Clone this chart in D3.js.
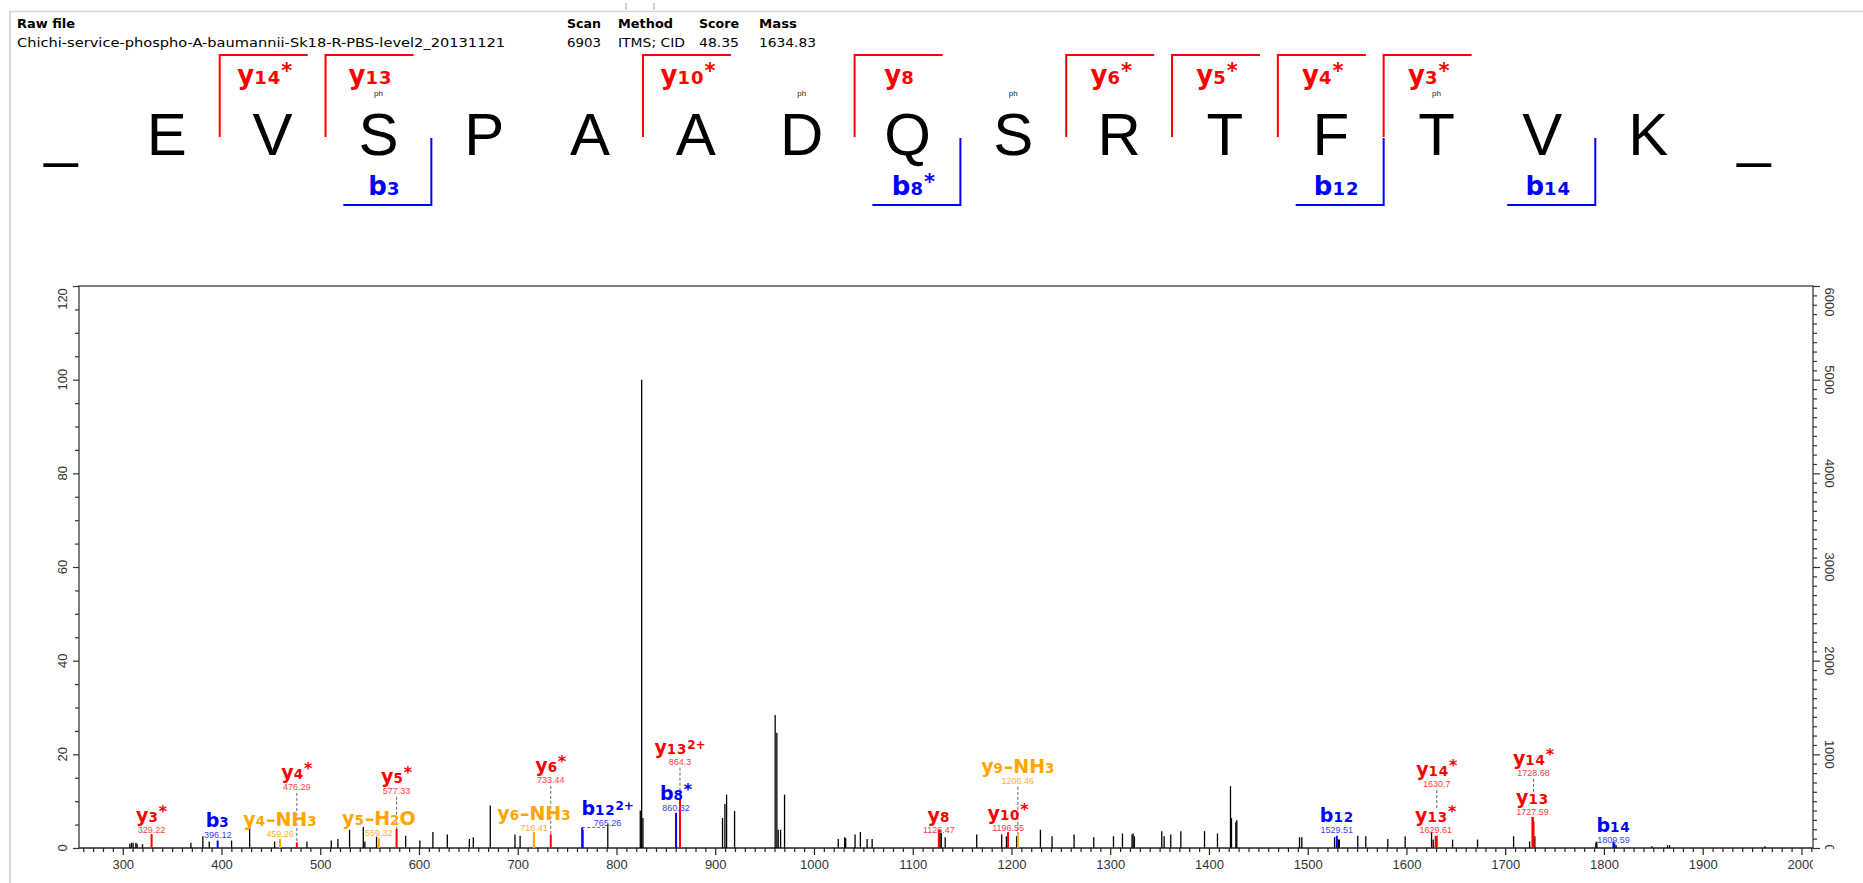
<!DOCTYPE html>
<html>
<head>
<meta charset="utf-8">
<script src="https://cdn.jsdelivr.net/npm/d3@7/dist/d3.min.js"></script>
<style>
html,body{margin:0;padding:0;background:#fff;}
svg{display:block;}
</style>
</head>
<body>
<svg id="chart" width="1863" height="883"></svg>
<script>
// ---------------- data ----------------
const rawFile = "Chichi-service-phospho-A-baumannii-Sk18-R-PBS-level2_20131121";
const fieldNames = ["Scan", "Method", "Score", "Mass"];
const fieldValues = ["6903", "ITMS; CID", "48.35", "1634.83"];

const sequence = ["_","E","V","S","P","A","A","D","Q","S","R","T","F","T","V","K","_"];
const phosphoSites = [3, 7, 9, 13];
const headerYIons = [14, 13, 10, 8, 6, 5, 4, 3];
const headerYMods = ["*", "", "*", "", "*", "*", "*", "*"];
const headerBIons = [3, 8, 12, 14];
const headerBMods = ["", "*", "", ""];

// unassigned peaks (m/z, relative intensity %)
const peakMz = [307.2,308.9,310.5,313.3,314.5,320.0,369.0,381.1,387.6,410.2,428.5,453.8,486.5,511.2,517.9,529.7,543.6,545.2,557.0,586.5,600.9,614.1,628.7,651.0,655.0,672.2,697.2,702.4,766.0,791.2,824.1,825.5,826.8,907.4,909.8,911.5,919.6,960.7,962.4,963.8,966.2,970.2,1024.6,1031.1,1032.1,1041.6,1047.0,1053.8,1058.9,1127.6,1128.9,1132.9,1164.8,1190.1,1194.9,1205.2,1229.3,1241.1,1263.4,1283.3,1303.3,1312.4,1322.1,1323.2,1324.5,1352.2,1354.6,1361.3,1371.5,1395.5,1408.6,1421.8,1422.8,1427.2,1428.2,1491.7,1494.0,1527.2,1531.0,1532.0,1550.7,1558.8,1581.1,1598.7,1625.4,1627.1,1646.7,1672.0,1708.5,1724.7,1728.1,1730.0,1791.8,1792.8,1811.0,1812.3,1848.5,1864.4,1866.5,1963.0];
const peakInt = [0.9,1.1,1.1,1.1,0.9,0.8,1.1,2.5,1.4,1.6,4.6,1.4,1.4,1.6,1.9,3.9,4.5,1.4,2.4,2.6,1.6,3.4,2.9,1.9,2.3,9.1,2.9,2.6,3.9,5.1,8.0,100,6.4,6.4,9.4,11.4,7.9,28.4,24.6,3.9,3.9,11.4,1.9,2.3,2.1,2.9,3.4,1.9,1.9,3.9,3.2,2.3,2.9,2.9,2.5,2.5,3.9,2.5,2.9,2.3,2.5,3.1,2.9,3.1,2.5,3.6,2.5,2.9,3.6,3.6,3.1,13.2,6.4,5.5,5.9,2.3,2.3,2.3,1.8,1.8,2.6,2.5,1.9,2.5,3.4,1.8,1.8,1.8,2.5,1.4,6.6,2.5,1.2,1.4,0.9,0.6,0.35,0.6,0.6,0.35];

// assigned fragment ions
const ionMz = [329.22,396.12,459.26,476.29,559.32,577.33,716.41,733.44,765.26,860.32,864.3,1126.47,1196.55,1206.46,1529.51,1629.61,1630.7,1727.59,1728.68,1809.59];
const ionInt = [3.0,1.6,1.9,1.2,2.1,4.1,3.4,2.9,4.4,7.5,10.5,3.9,3.4,2.9,2.6,2.6,2.6,6.6,5.7,1.4];
const ionType = ["y","b","y","y","y","y","y","y","b","b","y","y","y","y","b","y","y","y","y","b"];
const ionNum = [3,3,4,4,5,5,6,6,12,8,13,8,10,9,12,13,14,13,14,14];
const ionMod = ["*","","-NH3","*","-H2O","*","-NH3","*","2+","*","2+","","*","-NH3","","*","*","","*",""];
const ionLabelText = ["329.22","396.12","459.26","476.29","559.32","577.33","716.41","733.44","765.26","860.32","864.3","1126.47","1196.55","1206.46","1529.51","1629.61","1630.7","1727.59","1728.68","1809.59"];
// where the m/z label sits (m/z, intensity level of the number's baseline)
const ionLabelMz = [329.22,396.12,459.26,476.29,559.32,577.33,716.41,733.44,791.0,860.32,864.3,1126.47,1196.55,1206.46,1529.51,1629.61,1630.7,1727.59,1728.68,1809.59];
const ionLabelLevel = [3.2,2.1,2.35,12.4,2.6,11.6,3.6,13.9,4.7,7.9,17.8,3.3,3.6,13.7,3.2,3.3,13.0,7.1,15.4,1.1];

const xMajorTicks = d3.range(300, 2001, 100);
const xMinorTicks = d3.range(260, 2011, 10).filter(v => v % 100 !== 0);
const yMajorTicks = d3.range(0, 121, 20);
const yMinorTicks = d3.range(0, 121, 5).filter(v => v % 20 !== 0);
const rMajorTicks = d3.range(0, 6001, 1000);
const rMinorTicks = d3.range(0, 6001, 100).filter(v => v % 1000 !== 0);

// ---------------- layout ----------------
const svg = d3.select("#chart");
const plot = {left: 79, right: 1813, top: 286, bottom: 848};
const x = d3.scaleLinear().domain([255.7, 2011.7]).range([plot.left, plot.right]);
const y = d3.scaleLinear().domain([0, 120]).range([plot.bottom, plot.top]);
const yR = d3.scaleLinear().domain([0, 6000]).range([plot.bottom, plot.top]);
const seqX = d3.scaleLinear().domain([0, sequence.length - 1]).range([61, 1754]);

const RED = "#ff0000", BLUE = "#0000ff", ORANGE = "#ffa500";
const RED_N = "#ff4040", BLUE_N = "#3a3aff", ORANGE_N = "#ffae30";
const AXIS_FONT = "'Liberation Sans', Arial, sans-serif";
const LABEL_FONT = "'DejaVu Sans', Verdana, sans-serif";

const defs = svg.append("defs");
defs.append("clipPath").attr("id", "clipX").append("rect")
  .attr("x", 0).attr("y", -5).attr("width", plot.right).attr("height", 45);
defs.append("clipPath").attr("id", "clipR").append("rect")
  .attr("x", plot.right - 5).attr("y", 0).attr("width", 60).attr("height", plot.bottom + 1);

// window border
svg.append("line").attr("x1", 10).attr("x2", 1863).attr("y1", 11.5).attr("y2", 11.5)
  .attr("stroke", "#d6d6d6").attr("stroke-width", 1.5);
svg.append("line").attr("x1", 10).attr("x2", 10).attr("y1", 11.5).attr("y2", 883)
  .attr("stroke", "#c8c8c8").attr("stroke-width", 1.5);
[626, 654].forEach(px => svg.append("line").attr("x1", px).attr("x2", px).attr("y1", 3).attr("y2", 10)
  .attr("stroke", "#7aa7e6").attr("stroke-width", 1));

// ---------------- header ----------------
const hdr = svg.append("g").attr("font-family", LABEL_FONT).attr("fill", "#000");
hdr.append("text").attr("x", 17).attr("y", 28).attr("font-size", 13).attr("font-weight", "bold")
  .attr("textLength", 58).attr("lengthAdjust", "spacingAndGlyphs").text("Raw file");
hdr.append("text").attr("x", 17).attr("y", 47).attr("font-size", 13)
  .attr("textLength", 488).attr("lengthAdjust", "spacingAndGlyphs").text(rawFile);
const fieldX = [567, 618, 699, 759];
const nameW = [34, 55, 40, 38];
const valW = [34, 67, 40, 57];
fieldNames.forEach((n, i) => {
  hdr.append("text").attr("x", fieldX[i]).attr("y", 28).attr("font-size", 13).attr("font-weight", "bold")
    .attr("textLength", nameW[i]).attr("lengthAdjust", "spacingAndGlyphs").text(n);
  hdr.append("text").attr("x", fieldX[i]).attr("y", 47).attr("font-size", 13)
    .attr("textLength", valW[i]).attr("lengthAdjust", "spacingAndGlyphs").text(fieldValues[i]);
});

// sequence letters
const seqG = svg.append("g");
sequence.forEach((s, i) => {
  seqG.append("text").attr("x", seqX(i)).attr("y", 155).attr("text-anchor", "middle")
    .attr("font-family", AXIS_FONT).attr("font-size", 60).attr("fill", "#000").text(s);
});
phosphoSites.forEach(i => {
  seqG.append("text").attr("x", seqX(i)).attr("y", 96).attr("text-anchor", "middle")
    .attr("font-family", AXIS_FONT).attr("font-size", 8).attr("fill", "#222").text("ph");
});

function drawIon(parent, cx, base, type, num, mod, color, sz) {
  const t = parent.append("text")
    .attr("x", cx).attr("y", base)
    .attr("text-anchor", "middle")
    .attr("font-family", LABEL_FONT)
    .attr("font-weight", "bold")
    .attr("fill", color);
  t.append("tspan").attr("font-size", sz.main).text(type);
  t.append("tspan").attr("font-size", sz.sub).attr("letter-spacing", sz.ls).text(String(num));
  if (mod === "*") {
    t.append("tspan").attr("font-size", sz.sup).attr("dy", -sz.raise).text("*");
  } else if (mod === "2+") {
    t.append("tspan").attr("font-size", sz.sup2).attr("dy", -sz.raise).text("2+");
  } else if (mod === "-NH3") {
    t.append("tspan").attr("font-size", sz.main).text("\u2013NH");
    t.append("tspan").attr("font-size", sz.sub).text("3");
  } else if (mod === "-H2O") {
    t.append("tspan").attr("font-size", sz.main).text("\u2013H");
    t.append("tspan").attr("font-size", sz.sub).text("2");
    t.append("tspan").attr("font-size", sz.main).text("O");
  }
  return t;
}

const headSize = {main: 26, sub: 18, sup: 21, sup2: 16, raise: 6, ls: 1};
const brG = svg.append("g").attr("fill", "none").attr("stroke-width", 2);
headerYIons.forEach((n, i) => {
  const bx = seqX(15.5 - n);
  brG.append("path").attr("d", `M${bx},137 V55 H${bx + 88}`).attr("stroke", RED);
  drawIon(svg, bx + 45, 84, "y", n, headerYMods[i], RED, headSize);
});
headerBIons.forEach((n, i) => {
  const bx = seqX(n + 0.5);
  brG.append("path").attr("d", `M${bx},138 V205 H${bx - 88}`).attr("stroke", BLUE);
  drawIon(svg, bx - 47, 195, "b", n, headerBMods[i], BLUE, headSize);
});

// ---------------- plot frame & axes ----------------
svg.append("path")
  .attr("d", `M${plot.left},${plot.bottom} V${plot.top} H${plot.right} V${plot.bottom}`)
  .attr("fill", "none").attr("stroke", "#555").attr("stroke-width", 1.5);

const gx = svg.append("g").attr("transform", `translate(0,${plot.bottom})`).attr("clip-path", "url(#clipX)");
gx.call(d3.axisBottom(x).tickValues(xMajorTicks).tickSize(7).tickPadding(5).tickFormat(d3.format("d")));
gx.append("g").call(d3.axisBottom(x).tickValues(xMinorTicks).tickSize(4).tickFormat(""));
gx.selectAll(".domain").remove();
gx.selectAll("line").attr("stroke", "#222").attr("stroke-width", 1.2);
gx.selectAll("text").attr("font-family", AXIS_FONT).attr("font-size", 13).attr("fill", "#333");
svg.append("line").attr("x1", plot.left).attr("x2", plot.right).attr("y1", plot.bottom).attr("y2", plot.bottom)
  .attr("stroke", "#222").attr("stroke-width", 1.5);

const gy = svg.append("g").attr("transform", `translate(${plot.left},0)`);
gy.call(d3.axisLeft(y).tickValues(yMajorTicks).tickSize(6).tickFormat(""));
gy.append("g").call(d3.axisLeft(y).tickValues(yMinorTicks).tickSize(4).tickFormat(""));
gy.selectAll(".domain").remove();
gy.selectAll("line").attr("stroke", "#333").attr("stroke-width", 1.2);
yMajorTicks.forEach(v => {
  const cy = Math.max(y(v), plot.top + 13);
  svg.append("text").attr("transform", `translate(62,${cy}) rotate(-90)`)
    .attr("text-anchor", "middle").attr("dominant-baseline", "central")
    .attr("font-family", AXIS_FONT).attr("font-size", 13).attr("fill", "#333").text(v);
});

const gr = svg.append("g").attr("transform", `translate(${plot.right},0)`);
gr.call(d3.axisRight(yR).tickValues(rMajorTicks).tickSize(7).tickFormat(""));
gr.append("g").call(d3.axisRight(yR).tickValues(rMinorTicks).tickSize(4).tickFormat(""));
gr.selectAll(".domain").remove();
gr.selectAll("line").attr("stroke", "#333").attr("stroke-width", 1.2);
const rLab = svg.append("g").attr("clip-path", "url(#clipR)");
rMajorTicks.forEach(v => {
  const cy = Math.max(yR(v), plot.top + 16);
  rLab.append("text").attr("transform", `translate(1829,${cy}) rotate(90)`)
    .attr("text-anchor", "middle").attr("dominant-baseline", "central")
    .attr("font-family", AXIS_FONT).attr("font-size", 13).attr("fill", "#333").text(v);
});

// ---------------- peaks ----------------
const pk = svg.append("g");
pk.selectAll("line.pk").data(peakMz).join("line").attr("class", "pk")
  .attr("x1", d => x(d)).attr("x2", d => x(d))
  .attr("y1", y(0)).attr("y2", (d, i) => y(peakInt[i]))
  .attr("stroke", "#000").attr("stroke-width", 1.3);

function ionColor(i) {
  if (ionMod[i] === "-NH3" || ionMod[i] === "-H2O") return [ORANGE, ORANGE_N];
  return ionType[i] === "y" ? [RED, RED_N] : [BLUE, BLUE_N];
}

const ions = ionMz.map((m, i) => ({
  i, m, px: x(m), top: y(ionInt[i]),
  lx: x(ionLabelMz[i]), numBase: y(ionLabelLevel[i]), mainBase: y(ionLabelLevel[i]) - 11
}));

// leader lines
const lead = svg.append("g").attr("stroke", "#666").attr("stroke-width", 1).attr("stroke-dasharray", "3,2").attr("fill", "none");
ions.forEach(o => {
  if (Math.abs(o.lx - o.px) > 3) {
    lead.append("line").attr("x1", o.px).attr("x2", o.lx).attr("y1", o.top).attr("y2", o.top);
  } else if (o.numBase + 3 < o.top - 4) {
    let stop = o.top;
    ions.forEach(p => {
      if (p !== o && Math.abs(p.lx - o.lx) < 2.5 && p.mainBase > o.numBase && p.mainBase - 12 < stop) stop = p.mainBase - 12;
    });
    lead.append("line").attr("x1", o.lx).attr("x2", o.lx).attr("y1", o.numBase + 3).attr("y2", stop);
  }
});

// assigned peaks
ions.forEach(o => {
  svg.append("line").attr("x1", o.px).attr("x2", o.px).attr("y1", y(0)).attr("y2", o.top)
    .attr("stroke", ionColor(o.i)[0]).attr("stroke-width", 2);
});

// labels
const specSize = {main: 19, sub: 13.5, sup: 16, sup2: 12, raise: 5, ls: 0.8};
const labG = svg.append("g");
ions.forEach(o => {
  const [c, cn] = ionColor(o.i);
  drawIon(labG, o.lx, o.mainBase, ionType[o.i], ionNum[o.i], ionMod[o.i], c, specSize);
  labG.append("text").attr("x", o.lx).attr("y", o.numBase).attr("text-anchor", "middle")
    .attr("font-family", AXIS_FONT).attr("font-size", 9).attr("fill", cn).text(ionLabelText[o.i]);
});
</script>
</body>
</html>
